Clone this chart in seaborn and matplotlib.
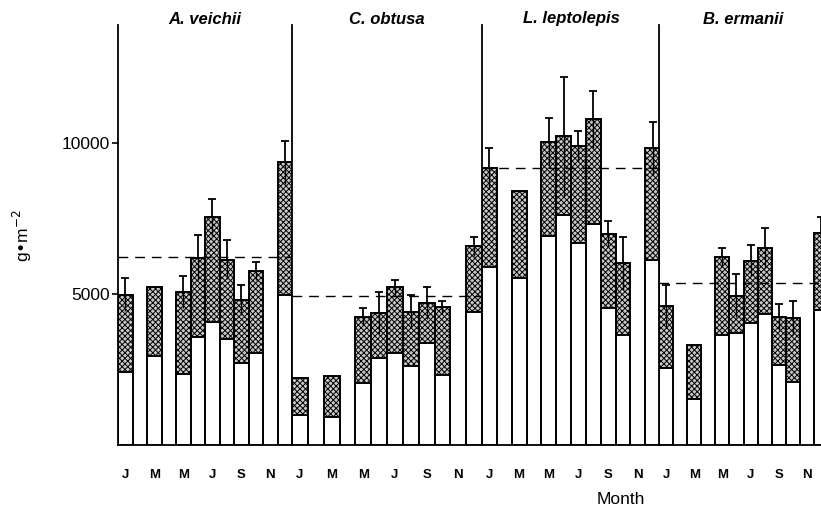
import numpy as np
import pandas as pd
import matplotlib
matplotlib.use("Agg")
import matplotlib.pyplot as plt
import seaborn as sns

# ---------------- data ----------------
species = ["A. veichii", "C. obtusa", "L. leptolepis", "B. ermanii"]
months = [1, 3, 5, 6, 7, 8, 9, 10, 12]
tick_months = [1, 3, 5, 7, 9, 11]
tick_labels = ["J", "M", "M", "J", "S", "N"]

total_av = [4970, 5220, 5060, 6200, 7540, 6130, 4800, 5770, 9350]
white_av = [2430, 2950, 2340, 3570, 4080, 3500, 2730, 3060, 4970]
err_av = [550, np.nan, 540, 750, 610, 640, 500, 300, 700]

total_co = [2210, 2290, 4250, 4360, 5220, 4410, 4710, 4560, 6570]
white_co = [990, 940, 2040, 2870, 3060, 2620, 3370, 2320, 4410]
err_co = [np.nan, np.nan, 280, 700, 240, 550, 530, 210, 330]

total_ll = [9160, 8390, 10040, 10210, 9880, 10780, 6990, 6020, 9840]
white_ll = [5900, 5520, 6920, 7620, 6680, 7320, 4530, 3640, 6130]
err_ll = [660, np.nan, 770, 1970, 500, 950, 410, 880, 860]

total_be = [4600, 3310, 6220, 4940, 6100, 6510, 4230, 4200, 7030]
white_be = [2560, 1510, 3640, 3700, 4050, 4330, 2650, 2100, 4470]
err_be = [700, np.nan, 300, 720, 520, 660, 430, 550, 510]

means = [6235, 4934, 9170, 5355]

totals = [total_av, total_co, total_ll, total_be]
whites = [white_av, white_co, white_ll, white_be]
errs = [err_av, err_co, err_ll, err_be]

frames = []
for sp, t, w, e in zip(species, totals, whites, errs):
    frames.append(pd.DataFrame({"species": sp, "month": months,
                                "total": t, "white": w, "err": e}))
df = pd.concat(frames, ignore_index=True)

# ---------------- style ----------------
sns.set_style("white")
plt.rcParams["font.family"] = ["Liberation Sans", "DejaVu Sans"]
plt.rcParams["text.color"] = "black"
plt.rcParams["xtick.color"] = "black"
plt.rcParams["ytick.color"] = "black"
plt.rcParams["axes.labelcolor"] = "black"
plt.rcParams["hatch.color"] = "#4a4a4a"
plt.rcParams["hatch.linewidth"] = 0.7

W, H = 821, 516
fig = plt.figure(figsize=(W / 100, H / 100), dpi=100)

# panel pixel extents (left, right)
panels_px = [(118, 292), (292, 482), (482, 660), (659, 828)]
y0_px, y1_px = 445, 25
ymax = 13900

axes = []
for i, (l, r) in enumerate(panels_px):
    ax = fig.add_axes([l / W, (H - y0_px) / H, (r - l) / W, (y0_px - y1_px) / H])
    axes.append(ax)
    sub = df[df["species"] == species[i]]
    sns.barplot(data=sub, x="month", y="total", native_scale=True, width=1.0,
                color="#c4c4c4", edgecolor="black", linewidth=1.4,
                errorbar=None, ax=ax, zorder=2)
    n_before = len(ax.patches)
    for p in ax.patches:
        p.set_hatch("xxxxxx")
        p.set_facecolor("#c8c8c8")
    sns.barplot(data=sub, x="month", y="white", native_scale=True, width=1.0,
                color="white", edgecolor="black", linewidth=1.4,
                errorbar=None, ax=ax, zorder=3)
    for p in ax.patches[n_before:]:
        p.set_facecolor("white")
        p.set_zorder(3)

    ax.axhline(means[i], color="black", linewidth=1.0, dashes=(7, 5), zorder=4)

    ok = sub["err"].notna()
    m = sub["month"][ok].to_numpy()
    t = sub["total"][ok].to_numpy()
    e = sub["err"][ok].to_numpy()
    ax.errorbar(m, t, yerr=[np.zeros_like(e), e], fmt="none", ecolor="black",
                elinewidth=1.3, capsize=3.2, capthick=1.3, zorder=5)
    ax.errorbar(m, t, yerr=[e, np.zeros_like(e)], fmt="none", ecolor="black",
                elinewidth=1.0, capsize=0, zorder=5)

    ax.set_xlim(0.5, 12.5)
    ax.set_ylim(0, ymax)
    ax.set_xticks(tick_months)
    ax.set_xticklabels(tick_labels, fontsize=9.5, fontweight="bold")
    ax.tick_params(axis="x", length=0, pad=17)
    for s in ["top", "right"]:
        ax.spines[s].set_visible(False)
    ax.spines["left"].set_linewidth(1.3)
    ax.spines["bottom"].set_linewidth(1.3)
    ax.spines["left"].set_color("black")
    ax.spines["bottom"].set_color("black")
    ax.set_xlabel("")
    ax.set_ylabel("")
    ax.patch.set_alpha(0)
    if i == 0:
        ax.set_yticks([5000, 10000])
        ax.set_yticklabels(["5000", "10000"], fontsize=12.5)
        ax.tick_params(axis="y", length=4, width=1.2, direction="out", pad=2, left=True)
    else:
        ax.set_yticks([])
    cx = (l + r) / 2 / W
    fig.text(cx, 1 - 19 / H, species[i], ha="center", va="center",
             fontsize=12, fontweight="bold", fontstyle="italic")

axes[0].set_ylabel("g\u2022m$^{-2}$", fontsize=12.5, labelpad=20)
fig.text(621 / W, 1 - 499 / H, "Month", ha="center", va="center", fontsize=12.5)

fig.savefig("out.png", dpi=100)
